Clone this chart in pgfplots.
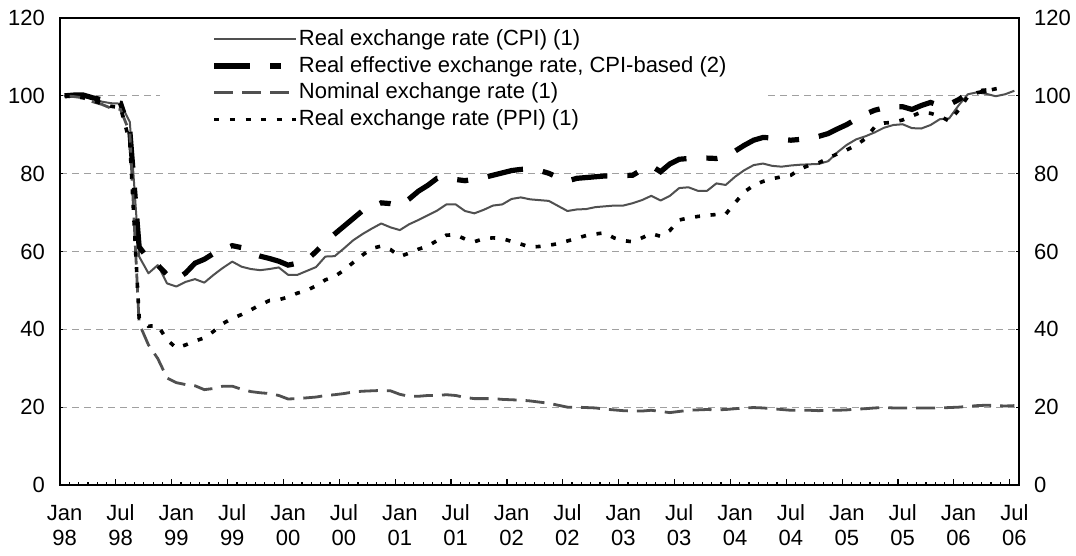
\documentclass[border=0pt]{standalone}
\usepackage{fontspec}
\setmainfont{Liberation Sans}
\usepackage{pgfplots}
\pgfplotsset{compat=1.18}
\usepackage{pgfplotstable}

\pgfplotstableread{
m cpi reer nom ppi
0 100.0 100.0 100.0 100.0
1 100.2 100.2 99.8 99.8
2 99.8 100.2 99.5 99.5
3 99.3 99.5 98.5 98.8
4 98.5 99.0 97.8 98.0
5 98.1 98.5 96.8 97.3
6 98.0 98.1 96.5 97.0
7 93.3 91.0 90.5 88.0
8 58.7 61.2 41.5 43.0
9 54.4 58.0 36.0 40.8
10 56.5 56.5 32.5 41.0
11 51.8 54.0 27.5 37.3
12 51.0 52.8 26.3 35.2
13 52.2 54.5 25.8 36.0
14 52.9 57.0 25.5 37.0
15 52.0 58.0 24.5 37.8
16 54.0 59.5 24.8 39.5
17 55.8 60.5 25.4 41.5
18 57.4 61.5 25.4 42.8
19 56.1 61.0 24.6 43.8
20 55.5 59.6 24.0 45.0
21 55.2 58.8 23.7 46.3
22 55.5 58.2 23.5 47.4
23 55.9 57.5 23.0 47.6
24 54.0 56.5 22.1 48.3
25 54.0 57.0 22.2 49.3
26 55.0 57.8 22.4 50.0
27 56.0 60.0 22.6 51.2
28 58.7 62.5 23.0 52.7
29 58.8 64.5 23.2 53.6
30 60.8 66.5 23.5 55.2
31 62.9 68.5 23.9 57.2
32 64.5 70.5 24.1 59.1
33 65.9 71.5 24.2 60.8
34 67.2 72.5 24.3 61.4
35 66.2 72.3 24.2 60.5
36 65.5 71.8 23.3 58.7
37 67.0 73.5 22.8 59.6
38 68.1 75.5 22.8 60.6
39 69.3 77.0 23.0 61.4
40 70.5 78.8 23.0 62.8
41 72.1 79.0 23.2 64.2
42 72.1 78.5 23.0 64.3
43 70.4 78.2 22.5 63.2
44 69.8 78.6 22.2 62.5
45 70.7 79.0 22.2 63.3
46 71.8 79.6 22.2 63.5
47 72.1 80.2 22.0 63.3
48 73.5 80.8 21.9 62.6
49 73.9 81.1 21.8 61.9
50 73.4 81.2 21.6 61.1
51 73.2 80.8 21.3 61.3
52 73.0 80.1 21.0 61.6
53 71.7 79.0 20.5 62.0
54 70.4 78.1 20.0 62.7
55 70.8 78.8 20.0 63.4
56 70.9 79.0 19.9 64.1
57 71.4 79.2 19.8 64.5
58 71.6 79.4 19.5 64.8
59 71.8 79.5 19.3 63.5
60 71.8 79.5 19.1 62.8
61 72.4 79.6 19.0 62.5
62 73.2 81.0 19.0 63.5
63 74.3 82.0 19.2 64.6
64 73.1 80.5 18.9 63.9
65 74.3 82.5 18.6 65.4
66 76.3 83.7 18.9 68.1
67 76.5 83.9 19.2 68.6
68 75.6 84.0 19.3 69.0
69 75.6 84.0 19.4 69.3
70 77.5 83.9 19.3 69.5
71 77.1 84.3 19.4 69.6
72 79.2 85.8 19.6 72.5
73 80.9 87.3 19.8 75.3
74 82.2 88.6 19.9 77.0
75 82.6 89.3 19.8 78.0
76 82.0 89.2 19.6 78.7
77 81.8 88.8 19.4 79.2
78 82.1 88.6 19.2 79.6
79 82.3 88.8 19.2 81.2
80 82.4 89.2 19.2 82.2
81 82.5 89.6 19.1 82.8
82 83.2 90.3 19.2 84.0
83 85.5 91.5 19.2 85.1
84 87.4 92.6 19.3 86.1
85 88.8 94.0 19.5 87.3
86 89.6 95.3 19.6 89.0
87 90.6 96.3 19.8 92.0
88 91.8 96.9 19.9 93.0
89 92.5 97.2 19.8 93.2
90 92.7 97.2 19.8 93.8
91 91.7 96.5 19.8 94.8
92 91.6 97.5 19.8 95.8
93 92.5 98.3 19.8 95.5
94 94.0 97.5 19.8 94.8
95 94.2 97.8 19.9 93.5
96 97.5 99.0 20.0 96.3
97 100.4 100.6 20.2 99.8
98 100.9 101.1 20.4 100.8
99 100.5 101.3 20.5 101.3
100 99.9 nan 20.4 101.8
101 100.4 nan 20.3 102.2
102 101.3 nan 20.4 nan
}\datatable

\definecolor{cpigray}{RGB}{80,80,80}
\definecolor{gridgray}{RGB}{160,160,160}

\newcommand{\tl}[2]{\strut #1\\\strut #2}

\begin{document}
\begin{tikzpicture}[font=\fontsize{11}{12.6}\selectfont]
\path[use as bounding box] (-30pt,-35.5pt) rectangle (508pt,242.5pt);
\begin{axis}[
  at={(0,0)}, anchor=south west,
  scale only axis, width=479.5pt, height=233.5pt,
  xmin=-0.5, xmax=102.5, ymin=0, ymax=120,
  axis line style={line width=0.8pt},
  major tick length=0pt,
  minor tick length=1.65pt,
  tick style={line width=0.6pt, black},
  xtick pos=bottom,
  xtick={0,6,...,102},
  xticklabels={\tl{Jan}{98},\tl{Jul}{98},\tl{Jan}{99},\tl{Jul}{99},\tl{Jan}{00},\tl{Jul}{00},\tl{Jan}{01},\tl{Jul}{01},\tl{Jan}{02},\tl{Jul}{02},\tl{Jan}{03},\tl{Jul}{03},\tl{Jan}{04},\tl{Jul}{04},\tl{Jan}{05},\tl{Jul}{05},\tl{Jan}{06},\tl{Jul}{06}},
  xticklabel style={align=center, anchor=north, yshift=-8.5pt, inner sep=0pt},
  minor xtick={-0.5,0.5,...,102.5},
  extra x ticks={5.5,11.5,...,101.5},
  extra x tick labels={},
  extra x tick style={major tick length=2.8pt, grid=none},
  ytick={0,20,...,120},
  minor ytick={0,20,...,120},
  yticklabel style={xshift=-4pt, /pgf/number format/assume math mode=true},
  ymajorgrids,
  grid style={dash pattern=on 3.5pt off 2.5pt, color=gridgray, line width=0.5pt},
  legend style={at={(axis cs:15.75,117.2)}, anchor=north west, draw=none, fill=none,
    inner sep=0pt, row sep=3.4pt, column sep=0pt,
    nodes={inner sep=0pt, text height=8pt, text depth=2pt}},
  legend cell align=left,
  legend image code/.code={\draw[#1] (0pt,0pt) -- (41pt,0pt);},
]
\fill[white] (axis cs:10.24,94) rectangle (axis cs:75.43,106);
\addplot[cpigray, line width=1pt, line join=round] table[x=m, y=cpi] {\datatable};
\addlegendentry{Real exchange rate (CPI) (1)}
\addplot[black, line width=2.6pt, dash pattern=on 18pt off 10pt on 5.5pt off 10pt] table[x=m, y=reer] {\datatable};
\addlegendentry{Real effective exchange rate, CPI-based (2)}
\addplot[cpigray, line width=1.4pt, dash pattern=on 9.5pt off 4.5pt] table[x=m, y=nom] {\datatable};
\addlegendentry{Nominal exchange rate (1)}
\addplot[black, line width=1.8pt, dash pattern=on 2.5pt off 5.3pt] table[x=m, y=ppi] {\datatable};
\addlegendentry{Real exchange rate (PPI) (1)}
\end{axis}
\begin{axis}[
  at={(0,0)}, anchor=south west,
  scale only axis, width=479.5pt, height=233.5pt,
  xmin=-0.5, xmax=102.5, ymin=0, ymax=120,
  hide x axis,
  axis line style={draw=none},
  major tick length=0pt,
  ytick={0,20,...,120},
  yticklabel pos=right,
  yticklabel style={xshift=4pt, /pgf/number format/assume math mode=true},
]
\end{axis}
\end{tikzpicture}
\end{document}
